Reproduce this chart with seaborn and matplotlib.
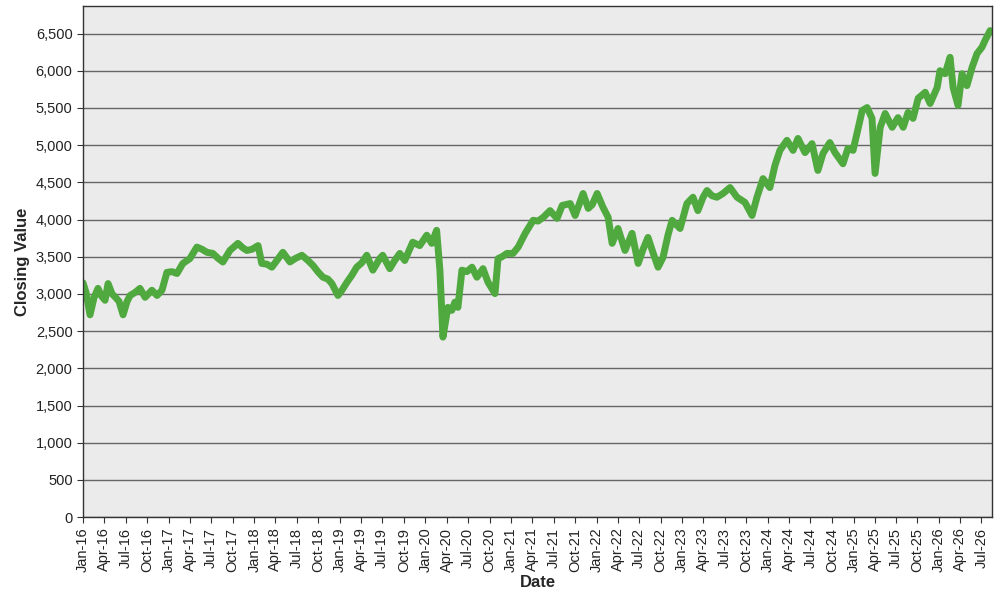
import matplotlib
matplotlib.use('Agg')
import matplotlib.pyplot as plt
import matplotlib.dates as mdates
import matplotlib.ticker as mticker
import pandas as pd
import seaborn as sns

# Closing values
dates = [
    '2016-01-01', '2016-01-14', '2016-01-31', '2016-02-17', '2016-03-05', '2016-03-18',
    '2016-04-04', '2016-04-17', '2016-05-04', '2016-05-17', '2016-06-03', '2016-06-20',
    '2016-07-07', '2016-07-20', '2016-08-10', '2016-08-31', '2016-09-22', '2016-10-21',
    '2016-11-12', '2016-12-03', '2016-12-24',
    '2017-01-15', '2017-02-05', '2017-03-02', '2017-04-01', '2017-05-01', '2017-05-23',
    '2017-06-13', '2017-07-08', '2017-07-30', '2017-08-20', '2017-09-19', '2017-10-23',
    '2017-11-13', '2017-11-30', '2017-12-22',
    '2018-01-17', '2018-02-02', '2018-02-24', '2018-03-17', '2018-04-07', '2018-05-03',
    '2018-06-02', '2018-06-27', '2018-07-23', '2018-08-18', '2018-09-08', '2018-09-29',
    '2018-10-21', '2018-11-11', '2018-11-28', '2018-12-24',
    '2019-01-10', '2019-02-01', '2019-02-21', '2019-03-14', '2019-04-05', '2019-04-26',
    '2019-05-22', '2019-06-20', '2019-07-03', '2019-08-02', '2019-08-23', '2019-09-14',
    '2019-10-05', '2019-11-08', '2019-12-08',
    '2020-01-07', '2020-01-28', '2020-02-18', '2020-03-03', '2020-03-16', '2020-04-06',
    '2020-04-23', '2020-05-06', '2020-05-19', '2020-06-05', '2020-06-26', '2020-07-18',
    '2020-08-08', '2020-09-03', '2020-09-24', '2020-10-24', '2020-11-06', '2020-11-23',
    '2020-12-14',
    '2021-01-09', '2021-01-31', '2021-03-02', '2021-04-05', '2021-04-26', '2021-05-18',
    '2021-06-16', '2021-07-16', '2021-08-07', '2021-09-10', '2021-10-01', '2021-11-04',
    '2021-11-26', '2021-12-13',
    '2022-01-03', '2022-01-28', '2022-02-19', '2022-03-08', '2022-04-02', '2022-05-02',
    '2022-06-01', '2022-06-27', '2022-07-18', '2022-08-08', '2022-08-30', '2022-09-20',
    '2022-10-11', '2022-11-02', '2022-11-19', '2022-12-23',
    '2023-01-21', '2023-02-16', '2023-03-09', '2023-03-31', '2023-04-17', '2023-05-08',
    '2023-05-29', '2023-06-24', '2023-07-24', '2023-08-23', '2023-09-26', '2023-10-26',
    '2023-11-16', '2023-12-12',
    '2024-01-10', '2024-02-01', '2024-02-22', '2024-03-23', '2024-04-18', '2024-05-09',
    '2024-06-08', '2024-07-08', '2024-08-02', '2024-08-24', '2024-09-22', '2024-10-14',
    '2024-11-17', '2024-12-08', '2024-12-30',
    '2025-01-16', '2025-02-07', '2025-02-28', '2025-03-21', '2025-04-03', '2025-04-25',
    '2025-05-16', '2025-06-15', '2025-07-10', '2025-08-01', '2025-08-22', '2025-09-12',
    '2025-10-04', '2025-11-03', '2025-11-24', '2025-12-24',
    '2026-01-05', '2026-01-27', '2026-02-17', '2026-03-02', '2026-03-23', '2026-04-09',
    '2026-04-30', '2026-05-22', '2026-06-12', '2026-07-03', '2026-07-16', '2026-08-07',
]
closing = [
    3150, 3020, 2720, 2950, 3075, 2980,
    2915, 3140, 3000, 2960, 2900, 2720,
    2900, 2980, 3020, 3075, 2955, 3050,
    2980, 3050, 3290,
    3300, 3275, 3410, 3475, 3630, 3600,
    3560, 3545, 3480, 3430, 3585, 3680,
    3620, 3585, 3600,
    3650, 3410, 3400, 3360, 3450, 3560,
    3430, 3480, 3520, 3450, 3385, 3300,
    3225, 3200, 3140, 2980,
    3050, 3160, 3250, 3360, 3420, 3520,
    3320, 3475, 3520, 3340, 3450, 3545,
    3450, 3695, 3650,
    3790, 3680, 3855, 3320, 2420, 2820,
    2780, 2890, 2820, 3320, 3300, 3360,
    3225, 3340, 3160, 3005, 3475, 3500,
    3545,
    3545, 3630, 3815, 3990, 3980, 4030,
    4120, 4015, 4190, 4215, 4055, 4350,
    4150, 4200,
    4350, 4165, 4030, 3680, 3880, 3585,
    3815, 3410, 3600, 3760, 3550, 3360,
    3490, 3800, 3990, 3880,
    4215, 4300, 4120, 4300, 4390, 4320,
    4300, 4350, 4430, 4300, 4230, 4055,
    4300, 4550,
    4430, 4730, 4930, 5065, 4930, 5090,
    4900, 5020, 4660, 4890, 5035, 4900,
    4750, 4955, 4930,
    5160, 5465, 5505, 5360, 4620, 5240,
    5425, 5240, 5370, 5240, 5440, 5360,
    5630, 5710, 5560, 5775,
    6000, 5960, 6180, 5775, 5535, 5960,
    5800, 6045, 6230, 6315, 6405, 6540,
]

df = pd.DataFrame({'Date': pd.to_datetime(dates), 'Closing Value': closing})

sns.set_style('ticks')
plt.rcParams['font.family'] = ['Liberation Sans', 'DejaVu Sans']

fig = plt.figure(figsize=(10, 6), dpi=100)
ax = fig.add_axes([0.083, 0.138, 0.909, 0.852])
ax.set_facecolor('#ebebeb')

sns.lineplot(data=df, x='Date', y='Closing Value', ax=ax, color='#4fa93f', linewidth=5)

# Axes ranges and ticks
ax.set_xlim(pd.Timestamp('2016-01-01'), pd.Timestamp('2026-08-15'))
ax.set_ylim(0, 6870)
ax.yaxis.set_major_locator(mticker.MultipleLocator(500))
ax.yaxis.set_major_formatter(mticker.StrMethodFormatter('{x:,.0f}'))
ax.xaxis.set_major_locator(mdates.MonthLocator(bymonth=[1, 4, 7, 10]))
ax.xaxis.set_major_formatter(mdates.DateFormatter('%b-%y'))
plt.setp(ax.get_xticklabels(), rotation=90)
ax.tick_params(axis='both', labelsize=10.5, length=4, color='#333333', labelcolor='#222222')

ax.grid(axis='y', color='#666666', linewidth=1)
ax.set_axisbelow(True)
for s in ax.spines.values():
    s.set_color('#333333')
    s.set_linewidth(1)

ax.set_xlabel('Date', fontsize=12, fontweight='bold', labelpad=2)
ax.set_ylabel('Closing Value', fontsize=12, fontweight='bold', labelpad=4)

fig.savefig('out.png', dpi=100)
